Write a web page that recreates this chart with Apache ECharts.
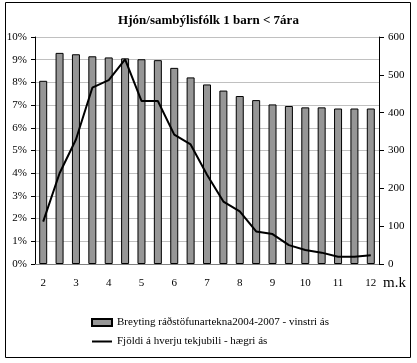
<!DOCTYPE html>
<html>
<head>
<meta charset="utf-8">
<script src="https://cdn.jsdelivr.net/npm/echarts@6/dist/echarts.min.js"></script>
<style>
html,body{margin:0;padding:0;background:#fff;}
#c{width:417px;height:363px;}
</style>
</head>
<body>
<div id="c"></div>
<script>
const categories = ['2','2.5','3','3.5','4','4.5','5','5.5','6','6.5','7','7.5','8','8.5','9','9.5','10','10.5','11','11.5','12'];
const barValues = [8.07, 9.3, 9.24, 9.15, 9.1, 9.06, 9.02, 8.98, 8.64, 8.22, 7.91, 7.64, 7.4, 7.22, 7.03, 6.96, 6.9, 6.9, 6.85, 6.85, 6.85];
const lineValues = [112, 240, 329, 466, 486, 541, 431, 431, 342, 316, 236, 165, 139, 86, 79, 50, 37, 30, 19, 19, 23];
const leftTicks = {min: 0, max: 10, interval: 1};
const rightTicks = {min: 0, max: 600, interval: 100};
const titleText = 'Hjón/sambýlisfólk 1 barn < 7ára';
const barName = 'Breyting ráðstöfunartekna2004-2007 - vinstri ás';
const lineName = 'Fjöldi á hverju tekjubili - hægri ás';
const unitName = 'm.k';

const font = "'Liberation Serif', 'DejaVu Serif', serif";
const legendText = {fontFamily: font, fontSize: 11, color: '#000'};
const chart = echarts.init(document.getElementById('c'), null, {renderer: 'canvas'});
chart.setOption({
  animation: false,
  backgroundColor: '#fff',
  textStyle: {fontFamily: font},
  title: {
    text: titleText,
    left: 'center',
    top: 9,
    textStyle: {fontFamily: font, fontSize: 13, fontWeight: 'bold', color: '#000'}
  },
  graphic: [{
    type: 'rect',
    shape: {x: 5.5, y: 2.5, width: 405, height: 355},
    style: {fill: null, stroke: '#000', lineWidth: 1},
    silent: true
  }],
  legend: {
    orient: 'vertical',
    left: 86,
    top: 312,
    itemGap: 8,
    itemWidth: 20,
    itemHeight: 7,
    textStyle: legendText,
    data: [
      {name: barName, icon: 'rect', textStyle: legendText},
      {name: lineName, itemStyle: {opacity: 0}, textStyle: legendText}
    ]
  },
  grid: {left: 35, right: 38, top: 37, bottom: 99},
  xAxis: [{
    type: 'category',
    data: categories,
    boundaryGap: true,
    axisLine: {lineStyle: {color: '#000', width: 1}},
    axisTick: {interval: 0, length: 4, lineStyle: {color: '#000'}},
    axisLabel: {interval: 1, margin: 14, fontFamily: font, fontSize: 11, color: '#000'},
    name: unitName,
    nameLocation: 'end',
    nameGap: 4,
    nameTextStyle: {fontFamily: font, fontSize: 15, color: '#000', verticalAlign: 'top', padding: [12, 0, 0, 0]}
  }, {
    type: 'category',
    data: categories,
    position: 'top',
    axisLine: {show: true, lineStyle: {color: '#808080'}},
    axisTick: {show: false},
    axisLabel: {show: false}
  }],
  yAxis: [{
    type: 'value',
    min: leftTicks.min, max: leftTicks.max, interval: leftTicks.interval,
    axisLine: {show: true, lineStyle: {color: '#000'}},
    axisTick: {show: true, length: 4, lineStyle: {color: '#000'}},
    axisLabel: {formatter: '{value}%', margin: 8, fontFamily: font, fontSize: 11, color: '#000'},
    splitLine: {show: true, lineStyle: {color: '#c0c0c0', width: 1}}
  }, {
    type: 'value',
    position: 'right',
    min: rightTicks.min, max: rightTicks.max, interval: rightTicks.interval,
    axisLine: {show: true, lineStyle: {color: '#000'}},
    axisTick: {show: true, length: 5, lineStyle: {color: '#000'}},
    axisLabel: {margin: 9, fontFamily: font, fontSize: 11, color: '#000'},
    splitLine: {show: false}
  }],
  series: [{
    name: barName,
    type: 'bar',
    data: barValues,
    barWidth: 8,
    itemStyle: {color: '#969696', borderColor: '#000', borderWidth: 1}
  }, {
    name: lineName,
    type: 'line',
    yAxisIndex: 1,
    data: lineValues,
    symbol: 'none',
    showSymbol: false,
    lineStyle: {color: '#000', width: 2},
    itemStyle: {color: '#000'}
  }]
});
</script>
</body>
</html>
